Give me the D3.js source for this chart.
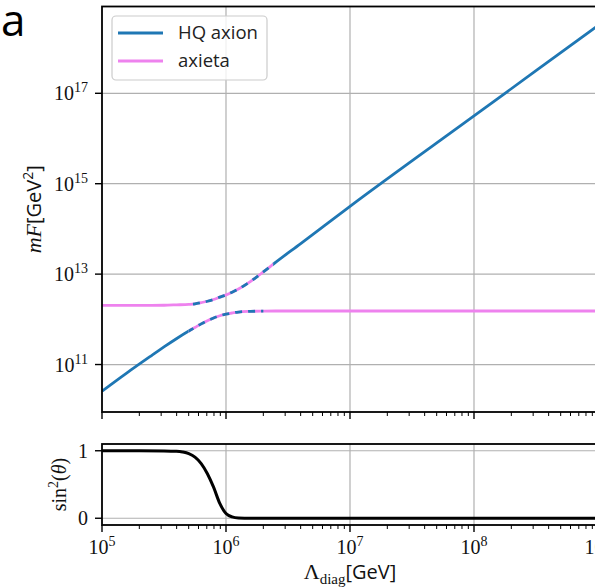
<!DOCTYPE html>
<html><head><meta charset="utf-8">
<script src="https://cdn.jsdelivr.net/npm/d3@7"></script>
<style>
html,body{margin:0;padding:0;background:#fff;}
svg{display:block;}
</style></head>
<body>
<svg id="chart" width="595" height="587"></svg>
<script>
// ---- data ----
const mixLambda = [1e5, 1.58e5, 2.51e5, 3.16e5, 3.98e5, 5.01e5, 5.62e5, 6.31e5, 7.08e5, 7.94e5, 8.91e5, 1e6, 1.12e6, 1.26e6, 1.58e6, 2e6, 2.51e6, 3.98e6, 1e7, 1e8, 1e9];
const heavyMF = [2.04e12, 2.04e12, 2.04e12, 2.05e12, 2.09e12, 2.14e12, 2.2e12, 2.34e12, 2.51e12, 2.75e12, 3.09e12, 3.47e12, 3.98e12, 4.68e12, 6.92e12, 1.12e13, 1.82e13, 4.68e13, 3.16e14, 3.16e16, 3.16e18];
const lightMF = [2.57e10, 6.46e10, 1.58e11, 2.45e11, 3.72e11, 5.5e11, 6.61e11, 7.94e11, 9.33e11, 1.07e12, 1.2e12, 1.3e12, 1.38e12, 1.45e12, 1.5e12, 1.52e12, 1.53e12, 1.53e12, 1.53e12, 1.53e12, 1.53e12];
const sinLambda = [1e5, 2e5, 3.16e5, 3.98e5, 4.47e5, 5.01e5, 5.62e5, 6.31e5, 7.08e5, 7.94e5, 8.91e5, 1e6, 1.12e6, 1.26e6, 1.58e6, 1e7, 1e9];
const sin2Theta = [1, 1, 0.998, 0.993, 0.982, 0.958, 0.905, 0.81, 0.66, 0.46, 0.22, 0.07, 0.02, 0.005, 0.001, 0, 0];
const mixStart = 5.01e5;      // start of the mixed (dashed) region
const heavyMixEnd = 2.4e6;    // end of mixed region, heavy state
const lightMixEnd = 2.0e6;    // end of mixed region, light state
const xTickExps = [5, 6, 7, 8, 9];
const yTickExps = [11, 13, 15, 17];
const sinTicks = [0, 1];
const seriesNames = ["HQ axion", "axieta"];
const seriesColors = ["#1f77b4", "#ee82ee"];

// ---- layout ----
const svg = d3.select("#chart");
const L = 102, R = 598;
const topT = 6.5, topB = 412;
const botT = 444, botB = 525;

const x = d3.scaleLog().domain([1e5, 1e9]).range([L, R]);
const yTop = d3.scaleLog().domain([Math.pow(10, 9.95), Math.pow(10, 18.92)]).range([topB, topT]);
const yBot = d3.scaleLinear().domain([-0.1, 1.1]).range([botB, botT]);

const serif = "'Liberation Serif','DejaVu Serif',serif";
const sans = "'Open Sans','DejaVu Sans',sans-serif";
const gridCol = "#b0b0b0";

// clip paths
const defs = svg.append("defs");
function clipRect(id, x0, x1, y0, y1) {
  defs.append("clipPath").attr("id", id).append("rect")
    .attr("x", x0).attr("y", y0).attr("width", x1 - x0).attr("height", y1 - y0);
}
clipRect("hPink", L, x(heavyMixEnd), topT, topB);
clipRect("hBlue", x(heavyMixEnd), R, topT, topB);
clipRect("hDash", x(mixStart), x(heavyMixEnd), topT, topB);
clipRect("lBlue", L, x(mixStart), topT, topB);
clipRect("lPink", x(mixStart), R, topT, topB);
clipRect("lDash", x(mixStart), x(lightMixEnd), topT, topB);
clipRect("cBot", L, R, botT, botB);

// ---- grids ----
const gTop = svg.append("g");
xTickExps.forEach(e => {
  const v = Math.pow(10, e);
  if (x(v) > L + 1 && x(v) < R - 1) {
    gTop.append("line").attr("x1", x(v)).attr("x2", x(v)).attr("y1", topT).attr("y2", topB)
      .attr("stroke", gridCol).attr("stroke-width", 1.2);
    gTop.append("line").attr("x1", x(v)).attr("x2", x(v)).attr("y1", botT).attr("y2", botB)
      .attr("stroke", gridCol).attr("stroke-width", 1.2);
  }
});
yTickExps.forEach(e => {
  const v = Math.pow(10, e);
  gTop.append("line").attr("x1", L).attr("x2", R).attr("y1", yTop(v)).attr("y2", yTop(v))
    .attr("stroke", gridCol).attr("stroke-width", 1.2);
});
sinTicks.forEach(v => {
  gTop.append("line").attr("x1", L).attr("x2", R).attr("y1", yBot(v)).attr("y2", yBot(v))
    .attr("stroke", gridCol).attr("stroke-width", 1.2);
});

// ---- curves ----
const idx = d3.range(mixLambda.length);
const heavyLine = d3.line().x(i => x(mixLambda[i])).y(i => yTop(heavyMF[i])).curve(d3.curveMonotoneX);
const lightLine = d3.line().x(i => x(mixLambda[i])).y(i => yTop(lightMF[i])).curve(d3.curveMonotoneX);
const lw = 2.8;
function drawPath(gen, color, clip, dash) {
  const p = svg.append("g").attr("clip-path", `url(#${clip})`).append("path")
    .attr("d", gen(idx)).attr("fill", "none").attr("stroke", color).attr("stroke-width", lw);
  if (dash) p.attr("stroke-dasharray", dash);
}
// heavy eigenstate: axieta-like at low Λ, HQ axion at high Λ
drawPath(heavyLine, seriesColors[1], "hPink");
drawPath(heavyLine, seriesColors[0], "hBlue");
drawPath(heavyLine, seriesColors[0], "hDash", "7 6");
// light eigenstate: HQ axion at low Λ, axieta at high Λ
drawPath(lightLine, seriesColors[0], "lBlue");
drawPath(lightLine, seriesColors[1], "lPink");
drawPath(lightLine, seriesColors[0], "lDash", "7 6");

// sin^2 curve
const sIdx = d3.range(sinLambda.length);
const sinLine = d3.line().x(i => x(sinLambda[i])).y(i => yBot(sin2Theta[i])).curve(d3.curveMonotoneX);
svg.append("g").attr("clip-path", "url(#cBot)").append("path")
  .attr("d", sinLine(sIdx)).attr("fill", "none").attr("stroke", "#000").attr("stroke-width", 3);

// ---- frames ----
function frame(y0, y1) {
  svg.append("rect").attr("x", L).attr("y", y0).attr("width", R - L).attr("height", y1 - y0)
    .attr("fill", "none").attr("stroke", "#000").attr("stroke-width", 1.8);
}
frame(topT, topB);
frame(botT, botB);

// ---- ticks ----
function xTicks(yAxis) {
  const g = svg.append("g");
  for (let e = 5; e < 9; e++) {
    for (let k = 1; k <= 9; k++) {
      const v = k * Math.pow(10, e);
      const len = k === 1 ? 7 : 4;
      g.append("line").attr("x1", x(v)).attr("x2", x(v)).attr("y1", yAxis).attr("y2", yAxis + len)
        .attr("stroke", "#000").attr("stroke-width", k === 1 ? 1.4 : 1);
    }
  }
  g.append("line").attr("x1", x(1e9)).attr("x2", x(1e9)).attr("y1", yAxis).attr("y2", yAxis + 7)
    .attr("stroke", "#000").attr("stroke-width", 1.4);
}
xTicks(topB);
xTicks(botB);

// x tick labels (bottom)
xTickExps.forEach(e => {
  const t = svg.append("text").attr("x", x(Math.pow(10, e))).attr("y", 554)
    .attr("text-anchor", "middle").attr("font-family", serif).attr("font-size", 20).attr("fill", "#111");
  t.append("tspan").text("10");
  t.append("tspan").attr("dy", -8).attr("font-size", 14).text(e);
});

// y ticks top
yTickExps.forEach(e => {
  const yy = yTop(Math.pow(10, e));
  svg.append("line").attr("x1", L - 7).attr("x2", L).attr("y1", yy).attr("y2", yy)
    .attr("stroke", "#000").attr("stroke-width", 1.4);
  const t = svg.append("text").attr("x", 88).attr("y", yy + 7)
    .attr("text-anchor", "end").attr("font-family", serif).attr("font-size", 20).attr("fill", "#111");
  t.append("tspan").text("10");
  t.append("tspan").attr("dy", -8).attr("font-size", 14).text(e);
});
// y ticks bottom
sinTicks.forEach(v => {
  const yy = yBot(v);
  svg.append("line").attr("x1", L - 7).attr("x2", L).attr("y1", yy).attr("y2", yy)
    .attr("stroke", "#000").attr("stroke-width", 1.4);
  svg.append("text").attr("x", 88).attr("y", yy + 7).attr("text-anchor", "end")
    .attr("font-family", serif).attr("font-size", 20).attr("fill", "#111").text(v);
});

// ---- axis labels ----
const yl = svg.append("text").attr("transform", `translate(41,${(topT + topB) / 2}) rotate(-90)`)
  .attr("text-anchor", "middle").attr("font-size", 20).attr("fill", "#111");
yl.append("tspan").attr("font-family", serif).attr("font-style", "italic").attr("font-size", 22).text("mF");
yl.append("tspan").attr("font-family", sans).text("[GeV");
yl.append("tspan").attr("font-family", sans).attr("font-size", 14).attr("dy", -8).text("2");
yl.append("tspan").attr("font-family", sans).attr("dy", 8).text("]");

const sl = svg.append("text").attr("transform", `translate(66,${(botT + botB) / 2}) rotate(-90)`)
  .attr("text-anchor", "middle").attr("font-family", serif).attr("font-size", 20).attr("fill", "#111");
sl.append("tspan").text("sin");
sl.append("tspan").attr("font-size", 14).attr("dy", -8).text("2");
sl.append("tspan").attr("dy", 8).text("(");
sl.append("tspan").attr("font-style", "italic").text("θ");
sl.append("tspan").text(")");

const xl = svg.append("text").attr("x", (L + R) / 2).attr("y", 579).attr("text-anchor", "middle")
  .attr("font-size", 20).attr("fill", "#111");
xl.append("tspan").attr("font-family", serif).attr("font-size", 22).text("Λ");
xl.append("tspan").attr("font-family", serif).attr("font-size", 15).attr("dy", 5).text("diag");
xl.append("tspan").attr("font-family", sans).attr("dy", -5).text("[GeV]");

// ---- legend ----
const lg = svg.append("g");
lg.append("rect").attr("x", 112).attr("y", 16).attr("width", 155).attr("height", 64).attr("rx", 4)
  .attr("fill", "#fff").attr("fill-opacity", 0.8).attr("stroke", "#ccc").attr("stroke-width", 1.2);
seriesNames.forEach((n, i) => {
  const yy = 33 + i * 28;
  lg.append("line").attr("x1", 118).attr("x2", 163).attr("y1", yy).attr("y2", yy)
    .attr("stroke", seriesColors[i]).attr("stroke-width", 3);
  lg.append("text").attr("x", 178).attr("y", yy + 6).attr("font-family", sans).attr("font-size", 18.5)
    .attr("fill", "#222").text(n);
});

// panel letter
svg.append("text").attr("x", 1).attr("y", 36).attr("font-family", sans).attr("font-size", 44)
  .attr("fill", "#000").text("a");
</script>
</body></html>
